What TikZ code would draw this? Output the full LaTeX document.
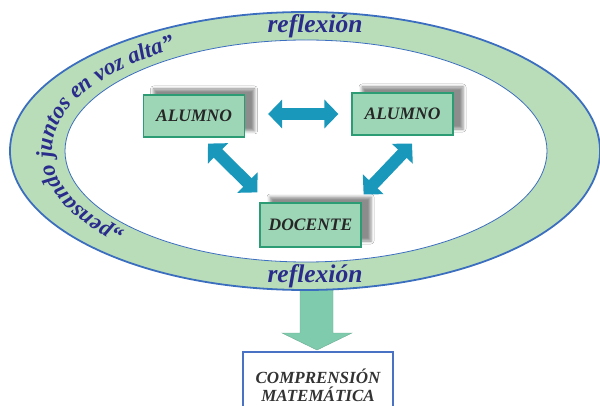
\documentclass[tikz,border=0pt]{standalone}
\usepackage{fontspec}
\setmainfont{Liberation Serif}
\usetikzlibrary{arrows.meta, decorations.text, shadows.blur}
\definecolor{bandgreen}{HTML}{B9DDB9}
\definecolor{bandblue}{HTML}{3C6EC0}
\definecolor{textnavy}{HTML}{2A2C8C}
\definecolor{boxgreen}{HTML}{9DD6B6}
\definecolor{boxedge}{HTML}{2C9C74}
\definecolor{arrowblue}{HTML}{1A98BC}
\definecolor{downgreen}{HTML}{7FCBAE}
\definecolor{resultblue}{HTML}{4A72C4}
\tikzset{
    rolebox/.style={draw=boxedge, line width=1.2pt, fill=boxgreen,
        minimum width=101pt, minimum height=42pt, inner sep=0pt,
        font=\bfseries\itshape\fontsize{17.5}{19}\selectfont, text=black!85,
        blur shadow={shadow xshift=10pt, shadow yshift=6pt,
            shadow blur radius=3pt, shadow opacity=45}},
    dblarrow/.style={draw=arrowblue, line width=12pt,
        {Triangle[length=14pt,width=28pt]}-{Triangle[length=14pt,width=28pt]}},
    bandtext/.style={font=\bfseries\itshape\fontsize{25.5}{26}\selectfont, text=textnavy},
}

\begin{document}
\begin{tikzpicture}[x=1pt, y=-1pt]
    \useasboundingbox (0,0) rectangle (600,406);
    % Arrow down to the result
    \draw[draw=downgreen!85!black, line width=0.4pt, fill=downgreen]
        (300,280) -- (333,280) -- (333,333) -- (352,333) -- (317,350)
        -- (282,333) -- (300,333) -- cycle;
    % Reflection band
    \def\Cx{306};
    \def\Cy{151};
    \draw[bandblue, line width=1.8pt, fill=bandgreen] (305,\Cy) ellipse [x radius=295, y radius=139];
    \draw[bandblue, line width=0.8pt, fill=white] (\Cx,\Cy) ellipse [x radius=241, y radius=111];
    \node[bandtext, anchor=base] (reflexTop) at (315,33) {reflexión};
    \node[bandtext, anchor=base] (reflexBot) at (315,283) {reflexión};
    % Text along the left of the band
    {\bfseries\itshape\fontsize{23}{23}\selectfont
    \path[decorate, decoration={text along path,
            text={„pensando juntos en voz alta”},
            text color=textnavy, text align=center}]
        (\Cx,\Cy) ++(126:254 and 119) arc[start angle=126, end angle=248, x radius=254, y radius=119];
    }
    % Students and teacher
    \node[rolebox] (alumnoL) at (194,116) {ALUMNO};
    \node[rolebox] (alumnoR) at (402.5,114) {ALUMNO};
    \node[rolebox, minimum height=44pt] (docente) at (310.5,225) {DOCENTE};
    % Exchanges
    \draw[dblarrow] ([shift={(23,-2)}]alumnoL.east) -- ([shift={(-13,0)}]alumnoR.west);
    \draw[dblarrow] ([shift={(14,6)}]alumnoL.south) -- ([shift={(-2,-10)}]docente.north west);
    \draw[dblarrow] ([shift={(9.5,8)}]alumnoR.south) -- ([shift={(2,-8)}]docente.north east);
    % Result
    \node[draw=resultblue, line width=1.6pt, fill=white, minimum width=150pt,
        minimum height=66pt, anchor=north, align=center, text=black!80,
        font=\bfseries\itshape\fontsize{17}{18}\selectfont] (result) at (318,351)
        {COMPRENSIÓN\\MATEMÁTICA};
\end{tikzpicture}
\end{document}
